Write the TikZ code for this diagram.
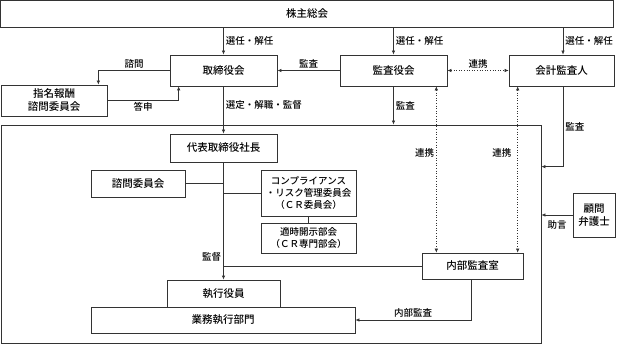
\documentclass[tikz,border=0pt]{standalone}
\usepackage{fontspec}
\setmainfont{Noto Sans CJK JP Medium}
\usetikzlibrary{arrows.meta}
\newcommand{\boxfont}{\fontsize{10.5}{13}\selectfont}
\newcommand{\smallboxfont}{\fontsize{9.5}{12}\selectfont}
\newcommand{\lblfont}{\fontsize{9.5}{11}\selectfont}

\begin{document}
\begin{tikzpicture}[x=1pt,y=-1pt,
  box/.style={draw=black!80,line width=0.7pt,inner sep=0pt,align=center,font=\boxfont},
  lbl/.style={font=\lblfont,inner sep=2pt},
  ln/.style={draw=black!80,line width=0.7pt},
  arr/.style={ln,-{Latex[length=4pt,width=3.5pt]}},
  link/.style={draw=black!80,line width=0.6pt,dotted,{Latex[length=4pt,width=3.5pt]}-{Latex[length=4pt,width=3.5pt]}}]
\useasboundingbox (0,0) rectangle (617,344);
\node[box,minimum width=540pt,minimum height=218pt] (frame) at (271,234) {};
\node[box,minimum width=613pt,minimum height=27pt] (soukai) at (307,13.5) {株主総会};
\node[box,minimum width=107pt,minimum height=31pt] (torishimari) at (223.5,70.5) {取締役会};
\node[box,minimum width=107pt,minimum height=31pt] (kansayaku) at (393.5,70.5) {監査役会};
\node[box,minimum width=105pt,minimum height=31pt] (kaikei) at (561.5,70.5) {会計監査人};
\node[box,minimum width=106pt,minimum height=31pt] (shimei) at (54,100.5) {指名報酬\\諮問委員会};
\node[box,minimum width=107pt,minimum height=28pt] (daihyo) at (223.5,148) {代表取締役社長};
\node[box,minimum width=94pt,minimum height=27pt] (shimon) at (138,183.5) {諮問委員会};
\node[box,minimum width=95pt,minimum height=46pt,font=\smallboxfont] (cr) at (308.5,193) {コンプライアンス\\・リスク管理委員会\\（ＣＲ委員会）};
\node[box,minimum width=95pt,minimum height=30pt,font=\smallboxfont] (tekiji) at (308.5,238) {適時開示部会\\（ＣＲ専門部会）};
\node[box,minimum width=101pt,minimum height=26pt] (naibu) at (472.5,266) {内部監査室};
\node[box,minimum width=264pt,minimum height=26pt] (gyomu) at (223,320) {業務執行部門};
\node[box,minimum width=113pt,minimum height=27pt] (shikkou) at (223.5,293.5) {執行役員};
\node[box,minimum width=42pt,minimum height=44pt] (komon) at (594,215) {顧問\\弁護士};
\draw[arr] (torishimari.north |- soukai.south) -- (torishimari.north) node[lbl,right,midway] {選任・解任};
\draw[arr] (kansayaku.north |- soukai.south) -- (kansayaku.north) node[lbl,right,midway] {選任・解任};
\draw[arr] ([xshift=1.5pt]kaikei.north |- soukai.south) -- ([xshift=1.5pt]kaikei.north) node[lbl,right,midway] {選任・解任};
\draw[arr] (kansayaku.west) -- (torishimari.east) node[lbl,above,midway] {監査};
\draw[link] (kansayaku.east) -- (kaikei.west) node[lbl,above,midway] {連携};
\draw[arr] (torishimari.west) -| ([xshift=-9pt]shimei.north east) node[lbl,above,pos=0.25] {諮問};
\draw[arr] (shimei.east) -| ([xshift=9pt]torishimari.south west) node[lbl,below,pos=0.25] {答申};
\draw[arr] (torishimari.south) -- (daihyo.north) node[lbl,right,pos=0.4] {選定・解職・監督};
\draw[arr] (kansayaku.south) -- (kansayaku.south |- frame.north) node[lbl,right,midway] {監査};
\draw[arr] ([xshift=1.5pt]kaikei.south) |- ([yshift=-42pt]frame.north east) node[lbl,right,pos=0.25] {監査};
\draw[arr] (komon.west) -- (komon.west -| frame.east) node[lbl,below,midway,yshift=-3pt] {助言};
\draw[link] ([xshift=-11pt]kansayaku.south east) coordinate (d1) -- (d1 |- naibu.north) node[lbl,left,pos=0.4] {連携};
\draw[link] ([xshift=9pt]kaikei.south west) coordinate (d2) -- (d2 |- naibu.north) node[lbl,left,pos=0.4,xshift=-4pt] {連携};
\draw[ln] (shimon.east) -- (shimon.east -| daihyo.south);
\draw[ln] (cr.west) -- (cr.west -| daihyo.south);
\draw[ln] (cr.south) -- (tekiji.north);
\draw[ln] (naibu.west) -- (naibu.west -| daihyo.south);
\draw[arr] (daihyo.south) -- (shikkou.north) node[lbl,left,pos=0.81] {監督};
\draw[arr] ([xshift=-1.5pt]naibu.south) |- (gyomu.east) node[lbl,above,pos=0.75] {内部監査};
\end{tikzpicture}
\end{document}
